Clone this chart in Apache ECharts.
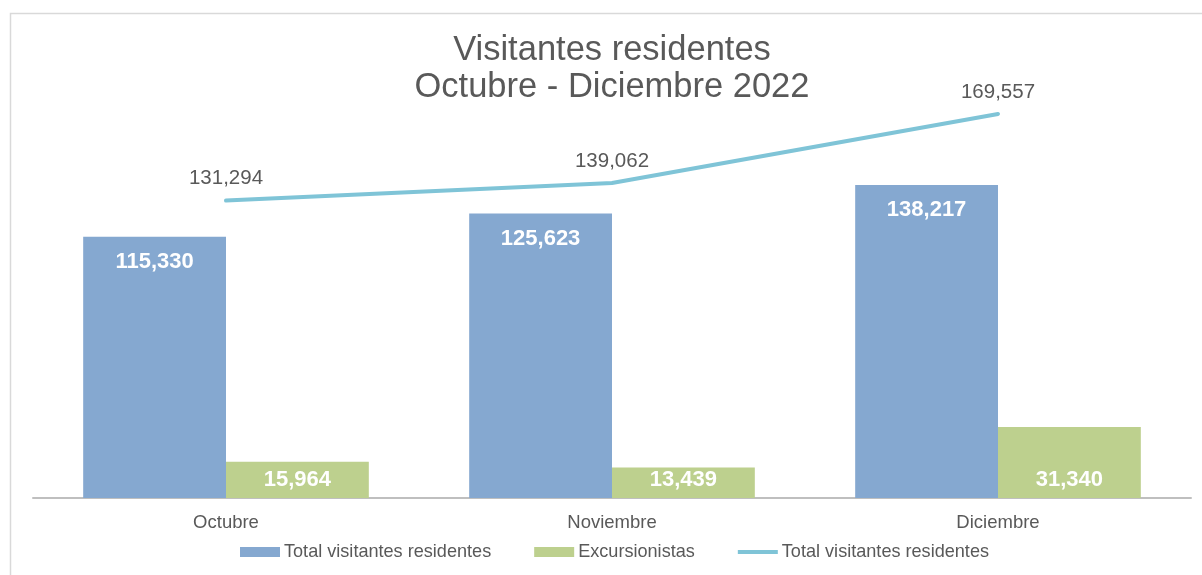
<!DOCTYPE html>
<html>
<head>
<meta charset="utf-8">
<script src="https://cdn.jsdelivr.net/npm/echarts@6/dist/echarts.min.js"></script>
<style>
  html, body { margin: 0; padding: 0; background: #fff; }
  #chart { width: 1202px; height: 575px; }
</style>
</head>
<body>
<div id="chart"></div>
<script>
var months = ['Octubre', 'Noviembre', 'Diciembre'];
var totalResidentes = [115330, 125623, 138217];
var excursionistas = [15964, 13439, 31340];
var totalLinea = [131294, 139062, 169557];

var chart = echarts.init(document.getElementById('chart'));
var font = '"Liberation Sans", Arial, sans-serif';
var fmt = function (p) { return echarts.format.addCommas(p.value); };

var option = {
	backgroundColor: '#fff',
	textStyle: { fontFamily: font },
	graphic: [{
		type: 'rect',
		silent: true,
		shape: { x: 10.5, y: 13.5, width: 1400, height: 800 },
		style: { fill: 'none', stroke: '#d9d9d9', lineWidth: 1.5 }
	}],
	title: {
		text: 'Visitantes residentes\nOctubre - Diciembre 2022',
		left: 607,
		textAlign: 'center',
		top: 27,
		textStyle: {
			fontFamily: font,
			fontSize: 34.5,
			fontWeight: 'normal',
			color: '#595959',
			lineHeight: 37
		}
	},
	legend: {
		bottom: 9,
		left: 235,
		itemWidth: 40,
		itemHeight: 10,
		itemGap: 43,
		textStyle: { fontFamily: font, fontSize: 18.1, color: '#595959', padding: [0, 0, 0, -1] },
		data: [
			{ name: 'Total visitantes residentes', icon: 'rect' },
			{ name: 'Excursionistas', icon: 'rect' },
			{ name: 'Total visitantes residentes ', icon: 'path://M0,0 L40,0 L40,4 L0,4 Z' }
		]
	},
	grid: { left: 33, right: 11, top: 45, bottom: 77, containLabel: false },
	xAxis: {
		type: 'category',
		data: months,
		axisTick: { show: false },
		axisLine: { lineStyle: { color: '#bfbfbf', width: 2 } },
		axisLabel: { color: '#595959', fontSize: 18.5, margin: 15, fontFamily: font }
	},
	yAxis: {
		type: 'value',
		min: 0,
		max: 200000,
		show: false,
		splitLine: { show: false }
	},
	series: [{
		name: 'Total visitantes residentes',
		type: 'bar',
		data: totalResidentes,
		barGap: '0%',
		barCategoryGap: '26%',
		itemStyle: { color: '#85a8d0' },
		label: {
			show: true,
			position: 'insideTop',
			distance: 14,
			formatter: fmt,
			color: '#fff',
			fontWeight: 'bold',
			fontSize: 22,
			fontFamily: font
		}
	}, {
		name: 'Excursionistas',
		type: 'bar',
		data: excursionistas,
		itemStyle: { color: '#bdd08e' },
		label: {
			show: true,
			position: 'insideBottom',
			distance: 7,
			formatter: fmt,
			color: '#fff',
			fontWeight: 'bold',
			fontSize: 22,
			fontFamily: font
		}
	}, {
		name: 'Total visitantes residentes ',
		type: 'line',
		data: totalLinea,
		symbol: 'circle',
		symbolSize: 1,
		z: 5,
		itemStyle: { color: '#7fc4d7' },
		lineStyle: { color: '#7fc4d7', width: 4, cap: 'round' },
		label: {
			show: true,
			position: 'top',
			distance: 11,
			formatter: fmt,
			color: '#595959',
			fontSize: 20.5,
			fontFamily: font
		}
	}]
};
chart.setOption(option);
window.onresize = chart.resize;
</script>
</body>
</html>
